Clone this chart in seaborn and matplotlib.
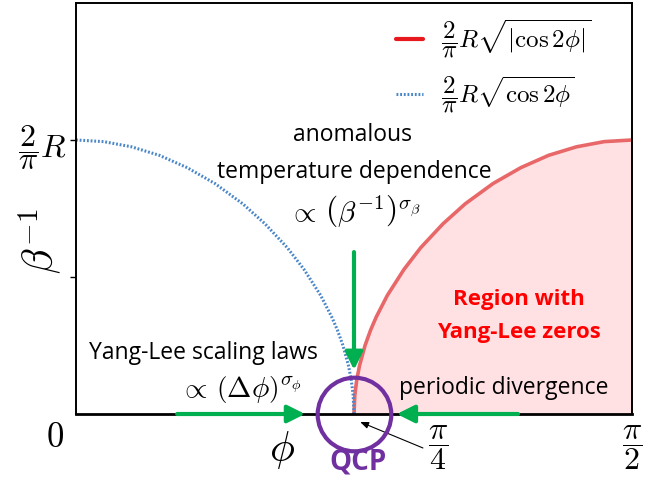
import numpy as np
import pandas as pd
import seaborn as sns
import matplotlib.pyplot as plt
from matplotlib.lines import Line2D

sns.set_theme(style="white")
plt.rcParams['font.family'] = ['Open Sans', 'DejaVu Sans']
plt.rcParams['mathtext.fontset'] = 'cm'
plt.rcParams['text.color'] = 'black'

# phi in units of pi/2, beta^-1 in units of 2R/pi
blue_phi = [0.0, 0.05, 0.10, 0.15, 0.20, 0.25, 0.30, 0.34, 0.38, 0.41, 0.44,
            0.46, 0.47, 0.48, 0.49, 0.495, 0.4985, 0.5]
blue_beta = [1.0, 0.994, 0.975, 0.944, 0.899, 0.841, 0.767, 0.694, 0.607, 0.528,
             0.433, 0.354, 0.307, 0.251, 0.177, 0.125, 0.069, 0.0]
red_phi = [0.5, 0.5015, 0.505, 0.51, 0.52, 0.53, 0.54, 0.56, 0.59, 0.62, 0.66,
           0.70, 0.75, 0.80, 0.85, 0.90, 0.95, 1.0]
red_beta = [0.0, 0.069, 0.125, 0.177, 0.251, 0.307, 0.354, 0.433, 0.528, 0.607,
            0.694, 0.767, 0.841, 0.899, 0.944, 0.975, 0.994, 1.0]

legend_labels = [r'$\dfrac{2}{\pi}R\sqrt{|\cos 2\phi|}$', r'$\dfrac{2}{\pi}R\sqrt{\cos 2\phi}$']
ytick_pos = [0.5, 1.0]
ytick_labels = ['', r'$\dfrac{2}{\pi}R$']

green = '#00B050'
purple = '#7030A0'
blue = '#4A86C8'

fig = plt.figure(figsize=(6.7, 4.8), dpi=100)
ax = fig.add_axes([0.1134, 0.1375, 0.8299, 0.8563])

ax.fill_between(red_phi, red_beta, 0, color='#FFE1E4', lw=0)
sns.lineplot(x=red_phi, y=red_beta, ax=ax, color='#E8686A', lw=2.6)
sns.lineplot(x=blue_phi, y=blue_beta, ax=ax, color=blue, lw=2.2, linestyle=(0, (0.6, 0.6)))

ax.set_xlim(0, 1)
ax.set_ylim(0, 1.5)
ax.set_xticks([])
ax.set_yticks(ytick_pos)
ax.set_yticklabels(ytick_labels)
ax.tick_params(axis='y', left=True, length=4, width=1, direction='out', pad=3, labelsize=23, colors='black')
for s in ax.spines.values():
    s.set_color('black')
    s.set_linewidth(1.4)
ax.spines['bottom'].set_linewidth(2)

handles = [Line2D([], [], color='#E8191E', lw=3),
           Line2D([], [], color=blue, lw=2.2, linestyle=(0, (0.6, 0.6)))]
ax.legend(handles, legend_labels, loc='upper left', bbox_to_anchor=(0.575, 0.965),
          frameon=False, fontsize=18, handlelength=1.1, handletextpad=0.7,
          labelspacing=0.6, borderpad=0, borderaxespad=0)

# axis labels as free text
ax.text(-0.065, 0.63, r'$\beta^{-1}$', fontsize=30, rotation=90, ha='center', va='center')
ax.text(0.37, -0.13, r'$\phi$', fontsize=30, ha='center', va='center')
ax.text(-0.038, -0.088, r'$0$', fontsize=25, ha='center', va='center')
ax.text(0.651, -0.124, r'$\dfrac{\pi}{4}$', fontsize=23, ha='center', va='center')
ax.text(1.0, -0.124, r'$\dfrac{\pi}{2}$', fontsize=23, ha='center', va='center')

# annotations
ax.text(0.497, 1.018, 'anomalous', fontsize=16.5, ha='center', va='center')
ax.text(0.5, 0.883, 'temperature dependence', fontsize=16.5, ha='center', va='center')
ax.text(0.5, 0.74, r'$\propto\,\left(\beta^{-1}\right)^{\sigma_\beta}$', fontsize=21, ha='center', va='center')
ax.text(0.797, 0.419, 'Region with', fontsize=16, color='#FF0000', fontweight='bold', ha='center', va='center')
ax.text(0.797, 0.299, 'Yang-Lee zeros', fontsize=16, color='#FF0000', fontweight='bold', ha='center', va='center')
ax.text(0.23, 0.222, 'Yang-Lee scaling laws', fontsize=16.5, ha='center', va='center')
ax.text(0.295, 0.09, r'$\propto\,\left(\Delta\phi\right)^{\sigma_\phi}$', fontsize=21, ha='center', va='center')
ax.text(0.77, 0.095, 'periodic divergence', fontsize=16.5, ha='center', va='center')
ax.text(0.507, -0.175, 'QCP', fontsize=20, color=purple, fontweight='bold', ha='center', va='center')

arrow = dict(arrowstyle='-|>,head_length=0.7,head_width=0.35', color=green, lw=3, mutation_scale=15,
             shrinkA=0, shrinkB=0)
ax.annotate('', xy=(0.5, 0.161), xytext=(0.5, 0.591), arrowprops=arrow, annotation_clip=False)
ax.annotate('', xy=(0.412, 0), xytext=(0.182, 0), arrowprops=arrow, annotation_clip=False)
ax.annotate('', xy=(0.577, 0), xytext=(0.795, 0), arrowprops=arrow, annotation_clip=False)
ax.annotate('', xy=(0.511, -0.029), xytext=(0.624, -0.124),
            arrowprops=dict(arrowstyle='-|>,head_length=0.5,head_width=0.2', color='black', lw=0.8,
                            mutation_scale=10, shrinkA=0, shrinkB=0), annotation_clip=False)

ax.plot([0.5], [0], marker='o', ms=53, mfc='none', mec=purple, mew=3, clip_on=False, zorder=5)

fig.savefig('out.png', dpi=100)
